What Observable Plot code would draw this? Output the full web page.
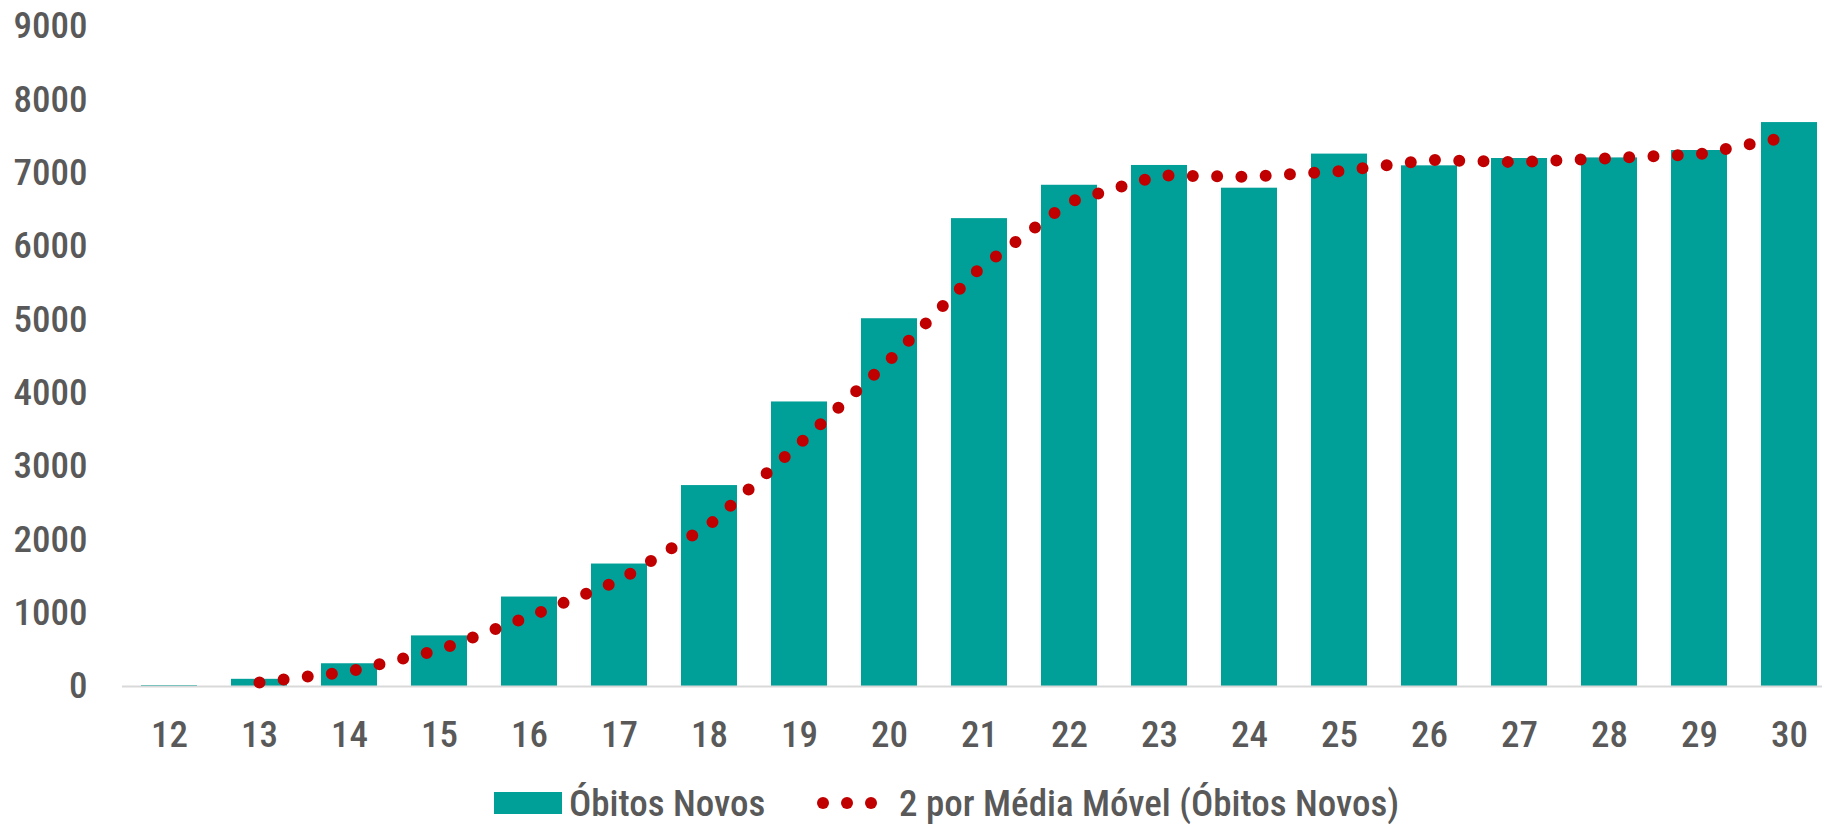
<!DOCTYPE html>
<html>
<head>
<meta charset="utf-8">
<script src="https://cdn.jsdelivr.net/npm/d3@7"></script>
<script src="https://cdn.jsdelivr.net/npm/@observablehq/plot@0.6"></script>
<style>
  html, body { margin: 0; padding: 0; background: #ffffff; }
  #chart { position: relative; width: 1824px; height: 824px; overflow: hidden; }
  .font { font-family: "Roboto Condensed", Roboto, sans-serif; font-weight: 500; }
</style>
</head>
<body>
<div id="chart" class="font"></div>
<script>
// Categories (weeks)
const categories = [12, 13, 14, 15, 16, 17, 18, 19, 20, 21, 22, 23, 24, 25, 26, 27, 28, 29, 30];
// Óbitos Novos (bar values)
const obitosNovos = [12, 98, 310, 690, 1220, 1670, 2740, 3880, 5015, 6380, 6835, 7105, 6795, 7260, 7100, 7200, 7208, 7309, 7690];
// 2 por Média Móvel (Óbitos Novos), categories 13..30
const mediaCategories = [13, 14, 15, 16, 17, 18, 19, 20, 21, 22, 23, 24, 25, 26, 27, 28, 29, 30];
const mediaMovel = [55, 204, 500, 955, 1445, 2205, 3310, 4448, 5698, 6608, 6970, 6950, 7028, 7180, 7150, 7204, 7259, 7500];
// Y tick labels
const yTicks = [0, 1000, 2000, 3000, 4000, 5000, 6000, 7000, 8000, 9000];

const barData = categories.map((c, i) => ({cat: c, v: obitosNovos[i]}));
const lineData = mediaCategories.map((c, i) => ({cat: c, v: mediaMovel[i]}));

const TEAL = "#009F98";
const RED = "#C00000";
const GRAY = "#595959";
const FONT = '"Roboto Condensed", Roboto, sans-serif';

const plot = Plot.plot({
  width: 1824,
  height: 770,
  marginLeft: 122,
  marginRight: 2,
  marginTop: 26,
  marginBottom: 84,
  style: {
    fontFamily: FONT,
    fontWeight: 500,
    fontSize: "37px",
    color: GRAY,
    background: "#ffffff",
    overflow: "visible"
  },
  x: {
    type: "band",
    domain: categories,
    range: [121.6, 1837.3],
    paddingInner: 0.375,
    paddingOuter: 0.1875,
    label: null,
    tickSize: 0,
    tickPadding: 34,
    tickFormat: d => String(d)
  },
  y: {
    domain: [0, 9000],
    range: [686, 26],
    ticks: yTicks,
    tickFormat: d => String(d),
    tickSize: 0,
    tickPadding: 35,
    label: null
  },
  marks: [
    Plot.barY(barData, {x: "cat", y: "v", fill: TEAL}),
    Plot.ruleY([0], {stroke: "#D9D9D9", strokeWidth: 2}),
    Plot.line(lineData, {
      x: "cat", y: "v",
      stroke: RED,
      strokeWidth: 12,
      strokeDasharray: "0 24.3",
      strokeLinecap: "round",
      strokeLinejoin: "round"
    })
  ]
});

const chart = document.getElementById("chart");
chart.appendChild(plot);

// Legend below the SVG
const legend = d3.create("svg")
  .attr("width", 1824)
  .attr("height", 54)
  .style("display", "block")
  .style("font-family", FONT)
  .style("font-weight", 500);
const ly = 33;
legend.append("rect").attr("x", 494).attr("y", ly - 11).attr("width", 68).attr("height", 22).attr("fill", TEAL);
legend.append("text").attr("x", 569).attr("y", ly).attr("dy", "0.35em")
  .attr("fill", GRAY).attr("font-size", 37).text("Óbitos Novos");
[823, 847, 871].forEach(cx => legend.append("circle").attr("cx", cx).attr("cy", ly).attr("r", 6).attr("fill", RED));
legend.append("text").attr("x", 899).attr("y", ly).attr("dy", "0.35em")
  .attr("fill", GRAY).attr("font-size", 37).text("2 por Média Móvel (Óbitos Novos)");
chart.appendChild(legend.node());
</script>
</body>
</html>
